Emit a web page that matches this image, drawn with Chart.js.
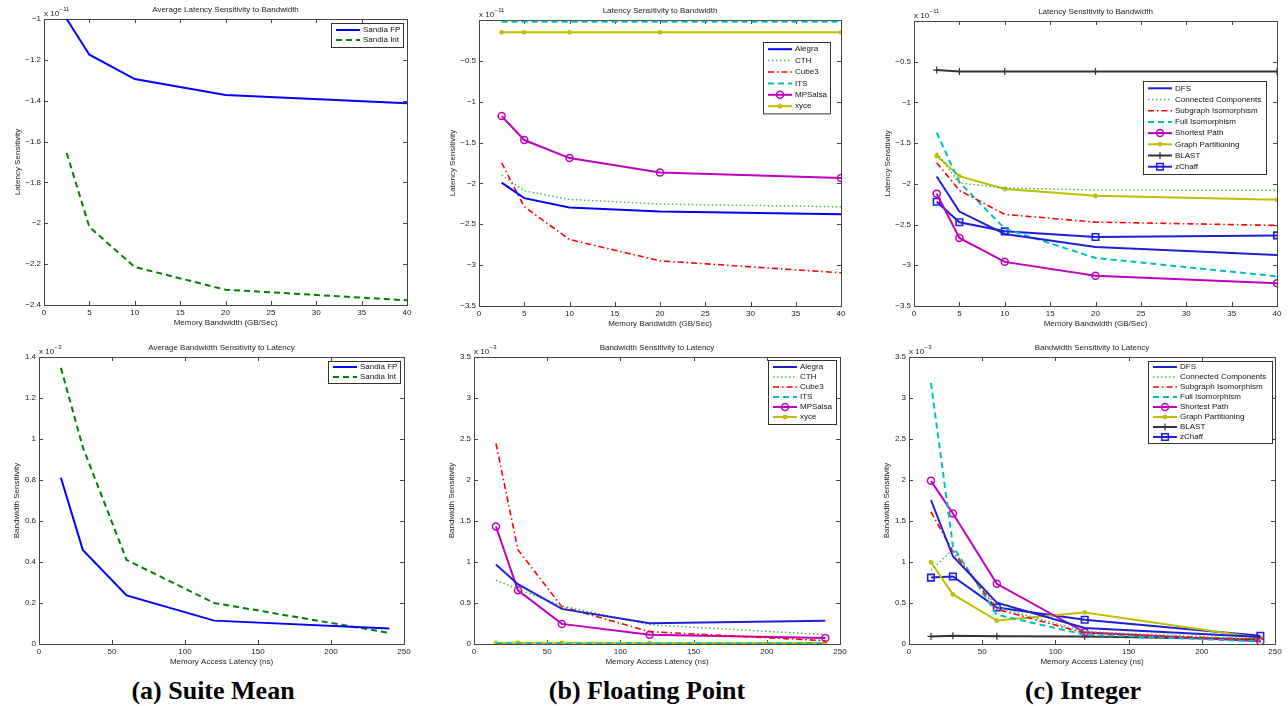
<!DOCTYPE html>
<html><head><meta charset="utf-8">
<script src="https://cdn.jsdelivr.net/npm/chart.js@4.4.0/dist/chart.umd.min.js"></script>
<style>
html,body{margin:0;padding:0;background:#fff;width:1288px;height:706px;overflow:hidden;}
.cell{position:absolute;}
.cell canvas{display:block;}
.cap{position:absolute;top:676px;line-height:26px;font:bold 26px 'Liberation Serif','Times New Roman',serif;color:#000;white-space:nowrap;transform:translateX(-50%);}
</style></head><body>
<div class="cell" style="left:0;top:0;width:430px;height:330px"><canvas id="c1" width="430" height="330"></canvas></div>
<div class="cell" style="left:430px;top:0;width:435px;height:330px"><canvas id="c2" width="435" height="330"></canvas></div>
<div class="cell" style="left:865px;top:0;width:423px;height:330px"><canvas id="c3" width="423" height="330"></canvas></div>
<div class="cell" style="left:0;top:330px;width:430px;height:340px"><canvas id="c4" width="430" height="340"></canvas></div>
<div class="cell" style="left:430px;top:330px;width:435px;height:340px"><canvas id="c5" width="435" height="340"></canvas></div>
<div class="cell" style="left:865px;top:330px;width:423px;height:340px"><canvas id="c6" width="423" height="340"></canvas></div>
<div class="cap" style="left:213px">(a) Suite Mean</div>
<div class="cap" style="left:647px">(b) Floating Point</div>
<div class="cap" style="left:1083px">(c) Integer</div>
<script>
// ---------- DATA ----------
// x values
const bwX  = [2.5, 5, 10, 20, 40];        // Memory Bandwidth (GB/Sec)
const latX = [15, 30, 60, 120, 240];      // Memory Access Latency (ns)
// tick values
const bwTicks  = [0, 5, 10, 15, 20, 25, 30, 35, 40];
const latTicks = [0, 50, 100, 150, 200, 250];
const meanLatTicks = [-2.4, -2.2, -2, -1.8, -1.6, -1.4, -1.2, -1];
const latSensTicks = [-3.5, -3, -2.5, -2, -1.5, -1, -0.5, 0];
const meanBwTicks  = [0, 0.2, 0.4, 0.6, 0.8, 1, 1.2, 1.4];
const bwSensTicks  = [0, 0.5, 1, 1.5, 2, 2.5, 3, 3.5];

// (a) Suite mean: latency sensitivity to bandwidth (x 1e-11)
const meanLatFP  = [-1.0, -1.175, -1.294, -1.372, -1.413];
const meanLatInt = [-1.656, -2.018, -2.214, -2.325, -2.377];
// (a) Suite mean: bandwidth sensitivity to latency (x 1e-3)
const meanBwFP  = [0.811, 0.459, 0.237, 0.114, 0.076];
const meanBwInt = [1.347, 0.96, 0.41, 0.2, 0.054];

// (b) Floating point: latency sensitivity (x 1e-11)
const fpLatAlegra  = [-1.99, -2.18, -2.294, -2.343, -2.376];
const fpLatCTH     = [-1.898, -2.09, -2.196, -2.253, -2.286];
const fpLatCube3   = [-1.747, -2.286, -2.686, -2.947, -3.094];
const fpLatITS     = [-0.02, -0.02, -0.02, -0.02, -0.02];
const fpLatMPSalsa = [-1.176, -1.469, -1.69, -1.865, -1.935];
const fpLatXyce    = [-0.151, -0.151, -0.151, -0.151, -0.151];
// (b) Floating point: bandwidth sensitivity (x 1e-3)
const fpBwAlegra  = [0.97, 0.73, 0.428, 0.253, 0.284];
const fpBwCTH     = [0.778, 0.67, 0.465, 0.235, 0.114];
const fpBwCube3   = [2.445, 1.15, 0.455, 0.15, 0.04];
const fpBwITS     = [0.005, 0.005, 0.005, 0.005, 0.005];
const fpBwMPSalsa = [1.433, 0.655, 0.245, 0.112, 0.073];
const fpBwXyce    = [0.012, 0.015, 0.015, 0.012, 0.012];

// (c) Integer: latency sensitivity (x 1e-11)
const intLatDFS      = [-1.91, -2.34, -2.615, -2.776, -2.874];
const intLatCC       = [-1.62, -1.99, -2.05, -2.075, -2.08];
const intLatSubgraph = [-1.74, -2.08, -2.375, -2.47, -2.51];
const intLatFullIso  = [-1.37, -1.98, -2.55, -2.91, -3.136];
const intLatSP       = [-2.12, -2.665, -2.958, -3.128, -3.222];
const intLatGP       = [-1.655, -1.905, -2.062, -2.146, -2.195];
const intLatBLAST    = [-0.603, -0.62, -0.62, -0.62, -0.62];
const intLatZChaff   = [-2.22, -2.472, -2.583, -2.653, -2.633];
// (c) Integer: bandwidth sensitivity (x 1e-3)
const intBwDFS      = [1.756, 1.07, 0.505, 0.195, 0.085];
const intBwCC       = [0.9, 1.15, 0.45, 0.15, 0.06];
const intBwSubgraph = [1.61, 1.13, 0.425, 0.134, 0.053];
const intBwFullIso  = [3.185, 1.19, 0.357, 0.114, 0.032];
const intBwSP       = [1.99, 1.592, 0.734, 0.142, 0.032];
const intBwGP       = [0.997, 0.605, 0.286, 0.385, 0.073];
const intBwBLAST    = [0.092, 0.1, 0.095, 0.09, 0.058];
const intBwZChaff   = [0.81, 0.823, 0.445, 0.296, 0.101];

// ---------- STYLES ----------
const FONT = "'Liberation Sans', Arial, Helvetica, sans-serif";
const ST = {
  blue:    {color:'#0000ff', width:2},
  blueC:   {color:'#1f1fd8', width:2},
  greenD:  {color:'#008000', width:2, dash:[6,4]},
  dotG:    {color:'#44bb44', width:1.5, dash:[1.5,2.5]},
  redDD:   {color:'#ff0000', width:1.6, dash:[6,3,1.5,3]},
  cyanD:   {color:'#00bfbf', width:2, dash:[6,4]},
  magO:    {color:'#bf00bf', width:2, marker:'circle', size:3.5, mw:1.5},
  oliveS:  {color:'#bfbf00', width:2, marker:'star', size:2.5, mw:1.2},
  blackP:  {color:'#333333', width:2, marker:'cross', size:3.5, mw:1.2},
  blueSq:  {color:'#1f1fd8', width:2, marker:'rect', size:4.6, mw:1.6}
};

// ---------- PLUGINS ----------
function fmt(v){ const r = Math.round(v*100)/100; if (r===0) return '0'; return (r<0?'\u2212':'') + String(Math.abs(r)); }

function drawMarker(ctx, style, r, x, y, color, bw){
  ctx.save(); ctx.setLineDash([]); ctx.lineWidth = bw; ctx.strokeStyle = color;
  ctx.beginPath();
  if (style==='circle') { ctx.arc(x, y, r, 0, 2*Math.PI); }
  else if (style==='rect') { const s = r*Math.SQRT1_2; ctx.rect(x-s, y-s, 2*s, 2*s); }
  else if (style==='cross') { ctx.moveTo(x-r,y); ctx.lineTo(x+r,y); ctx.moveTo(x,y-r); ctx.lineTo(x,y+r); }
  else if (style==='star') { ctx.moveTo(x-r,y); ctx.lineTo(x+r,y); ctx.moveTo(x,y-r); ctx.lineTo(x,y+r);
    const d = r*Math.SQRT1_2; ctx.moveTo(x-d,y-d); ctx.lineTo(x+d,y+d); ctx.moveTo(x-d,y+d); ctx.lineTo(x+d,y-d); }
  ctx.stroke(); ctx.restore();
}

const decorPlugin = {
  id: 'decor',
  beforeDatasetsDraw(chart, args, o) {
    const {ctx, chartArea: ca} = chart; const x = chart.scales.x, y = chart.scales.y;
    ctx.save();
    ctx.strokeStyle = '#444'; ctx.lineWidth = 1; ctx.setLineDash([]);
    ctx.beginPath();
    x.ticks.forEach(t => { const px = Math.round(x.getPixelForValue(t.value)) + 0.5;
      ctx.moveTo(px, ca.bottom); ctx.lineTo(px, ca.bottom - 4); ctx.moveTo(px, ca.top); ctx.lineTo(px, ca.top + 4); });
    y.ticks.forEach(t => { const py = Math.round(y.getPixelForValue(t.value)) + 0.5;
      ctx.moveTo(ca.left, py); ctx.lineTo(ca.left + 4, py); ctx.moveTo(ca.right, py); ctx.lineTo(ca.right - 4, py); });
    ctx.stroke();
    ctx.strokeRect(Math.round(ca.left) + 0.5, Math.round(ca.top) + 0.5, Math.round(ca.right - ca.left), Math.round(ca.bottom - ca.top));
    ctx.fillStyle = '#222'; ctx.font = '8px ' + FONT; ctx.textAlign = 'center'; ctx.textBaseline = 'middle';
    const cx = (ca.left + ca.right) / 2;
    ctx.fillText(o.title, cx, ca.top + o.titleDy);
    ctx.fillText(o.xTitle, cx, ca.bottom + o.xTitleDy);
    ctx.save(); ctx.translate(ca.left + o.yTitleDx, (ca.top + ca.bottom) / 2); ctx.rotate(-Math.PI / 2);
    ctx.fillText(o.yTitle, 0, 0); ctx.restore();
    ctx.textAlign = 'left'; ctx.textBaseline = 'alphabetic';
    ctx.fillText('x 10', ca.left, ca.top - 3);
    const w = ctx.measureText('x 10').width;
    ctx.font = '6px ' + FONT;
    ctx.fillText(o.exp, ca.left + w + 0.5, ca.top - 8.5);
    ctx.restore();
  }
};

const legendPlugin = {
  id: 'mlegend',
  afterDraw(chart, args, o) {
    const {ctx, chartArea: ca} = chart; const ds = chart.data.datasets;
    ctx.save();
    const w = o.width, h = ds.length * o.rowH + 2 * o.padV;
    const bx = Math.round(ca.right - o.inset[0] - w), by = Math.round(ca.top + o.inset[1]);
    ctx.fillStyle = '#fff'; ctx.fillRect(bx, by, w, h);
    ctx.strokeStyle = '#333'; ctx.lineWidth = 1; ctx.setLineDash([]);
    ctx.strokeRect(bx + 0.5, by + 0.5, w, h);
    ctx.font = '8px ' + FONT; ctx.textBaseline = 'middle'; ctx.textAlign = 'left';
    ds.forEach((d, i) => {
      const cy = by + o.padV + o.rowH * (i + 0.5);
      const x0 = bx + 5, x1 = x0 + 24;
      ctx.strokeStyle = d.borderColor; ctx.lineWidth = d.borderWidth; ctx.setLineDash(d.borderDash || []);
      ctx.beginPath(); ctx.moveTo(x0, cy); ctx.lineTo(x1, cy); ctx.stroke();
      ctx.setLineDash([]);
      if (d.pointRadius > 0) drawMarker(ctx, d.pointStyle, d.pointRadius, (x0 + x1) / 2, cy, d.borderColor, d.pointBorderWidth);
      ctx.fillStyle = '#111';
      ctx.fillText(d.label, x1 + 3, cy);
    });
    ctx.restore();
  }
};

// ---------- CHART FACTORY ----------
function makeChart(id, spec) {
  const datasets = spec.series.map(s => ({
    label: s.label,
    data: spec.x.map((xv, i) => ({x: xv, y: s.values[i]})),
    borderColor: s.style.color,
    backgroundColor: 'rgba(0,0,0,0)',
    borderWidth: s.style.width,
    borderDash: s.style.dash || [],
    pointStyle: s.style.marker || 'circle',
    pointRadius: s.style.marker ? s.style.size : 0,
    pointBorderColor: s.style.color,
    pointBackgroundColor: 'rgba(0,0,0,0)',
    pointBorderWidth: s.style.mw || 1,
    tension: 0, fill: false
  }));
  const b = spec.box;
  return new Chart(document.getElementById(id), {
    type: 'line',
    data: {datasets},
    options: {
      responsive: false, animation: false, devicePixelRatio: 1,
      layout: {padding: {left: 0, top: b.top, right: b.right, bottom: 0}},
      plugins: {legend: {display: false}, tooltip: {enabled: false}, decor: spec.decor, mlegend: spec.legend},
      scales: {
        x: {type: 'linear', min: spec.xTicks[0], max: spec.xTicks[spec.xTicks.length - 1],
          afterBuildTicks: s => { s.ticks = spec.xTicks.map(v => ({value: v})); },
          afterFit: s => { s.height = b.xH; },
          grid: {display: false, drawTicks: false}, border: {display: false},
          ticks: {font: {family: FONT, size: 8}, color: '#222', padding: 3, maxRotation: 0, autoSkip: false, callback: v => fmt(v)}},
        y: {type: 'linear', min: spec.yTicks[0], max: spec.yTicks[spec.yTicks.length - 1],
          afterBuildTicks: s => { s.ticks = spec.yTicks.map(v => ({value: v})); },
          afterFit: s => { s.width = b.yW; },
          grid: {display: false, drawTicks: false}, border: {display: false},
          ticks: {font: {family: FONT, size: 8}, color: '#222', padding: 3, autoSkip: false,
            callback: v => (spec.hideZero && Math.abs(v) < 1e-9) ? '' : fmt(v)}}
      }
    },
    plugins: [decorPlugin, legendPlugin]
  });
}

const topDecor = (title) => ({title, xTitle: 'Memory Bandwidth (GB/Sec)', yTitle: 'Latency Sensitivity', exp: '\u221211', titleDy: -9, xTitleDy: 18, yTitleDx: -26});
const botDecor = (title) => ({title, xTitle: 'Memory Access Latency (ns)', yTitle: 'Bandwidth Sensitivity', exp: '\u22123', titleDy: -9.5, xTitleDy: 18, yTitleDx: -22});

makeChart('c1', {
  x: bwX, xTicks: bwTicks, yTicks: meanLatTicks,
  box: {top: 19, right: 23, xH: 25, yW: 44},
  decor: topDecor('Average Latency Sensitivity to Bandwidth'),
  legend: {inset: [4, 4], width: 72, rowH: 10, padV: 2},
  series: [
    {label: 'Sandia FP', values: meanLatFP, style: ST.blue},
    {label: 'Sandia Int', values: meanLatInt, style: ST.greenD}
  ]
});
makeChart('c2', {
  x: bwX, xTicks: bwTicks, yTicks: latSensTicks, hideZero: true,
  box: {top: 20, right: 24, xH: 24, yW: 49},
  decor: topDecor('Latency Sensitivity to Bandwidth'),
  legend: {inset: [11, 22], width: 67, rowH: 11.4, padV: 1.5},
  series: [
    {label: 'Alegra', values: fpLatAlegra, style: ST.blue},
    {label: 'CTH', values: fpLatCTH, style: ST.dotG},
    {label: 'Cube3', values: fpLatCube3, style: ST.redDD},
    {label: 'ITS', values: fpLatITS, style: ST.cyanD},
    {label: 'MPSalsa', values: fpLatMPSalsa, style: ST.magO},
    {label: 'xyce', values: fpLatXyce, style: ST.oliveS}
  ]
});
makeChart('c3', {
  x: bwX, xTicks: bwTicks, yTicks: latSensTicks, hideZero: true,
  box: {top: 21, right: 11, xH: 24, yW: 49},
  decor: topDecor('Latency Sensitivity to Bandwidth'),
  legend: {inset: [11, 60], width: 123, rowH: 11.2, padV: 1.7},
  series: [
    {label: 'DFS', values: intLatDFS, style: ST.blueC},
    {label: 'Connected Components', values: intLatCC, style: ST.dotG},
    {label: 'Subgraph Isomorphism', values: intLatSubgraph, style: ST.redDD},
    {label: 'Full Isomorphism', values: intLatFullIso, style: ST.cyanD},
    {label: 'Shortest Path', values: intLatSP, style: ST.magO},
    {label: 'Graph Partitioning', values: intLatGP, style: ST.oliveS},
    {label: 'BLAST', values: intLatBLAST, style: ST.blackP},
    {label: 'zChaff', values: intLatZChaff, style: ST.blueSq}
  ]
});
makeChart('c4', {
  x: latX, xTicks: latTicks, yTicks: meanBwTicks,
  box: {top: 27, right: 26, xH: 26, yW: 39},
  decor: botDecor('Average Bandwidth Sensitivity to Latency'),
  legend: {inset: [4, 4], width: 72, rowH: 10, padV: 1},
  series: [
    {label: 'Sandia FP', values: meanBwFP, style: ST.blue},
    {label: 'Sandia Int', values: meanBwInt, style: ST.greenD}
  ]
});
makeChart('c5', {
  x: latX, xTicks: latTicks, yTicks: bwSensTicks,
  box: {top: 27, right: 25, xH: 26, yW: 44},
  decor: botDecor('Bandwidth Sensitivity to Latency'),
  legend: {inset: [4, 3], width: 68, rowH: 10, padV: 2},
  series: [
    {label: 'Alegra', values: fpBwAlegra, style: ST.blueC},
    {label: 'CTH', values: fpBwCTH, style: ST.dotG},
    {label: 'Cube3', values: fpBwCube3, style: ST.redDD},
    {label: 'ITS', values: fpBwITS, style: ST.cyanD},
    {label: 'MPSalsa', values: fpBwMPSalsa, style: ST.magO},
    {label: 'xyce', values: fpBwXyce, style: ST.oliveS}
  ]
});
makeChart('c6', {
  x: latX, xTicks: latTicks, yTicks: bwSensTicks,
  box: {top: 27, right: 13, xH: 26, yW: 44},
  decor: botDecor('Bandwidth Sensitivity to Latency'),
  legend: {inset: [3, 4], width: 124, rowH: 10, padV: 1},
  series: [
    {label: 'DFS', values: intBwDFS, style: ST.blueC},
    {label: 'Connected Components', values: intBwCC, style: ST.dotG},
    {label: 'Subgraph Isomorphism', values: intBwSubgraph, style: ST.redDD},
    {label: 'Full Isomorphism', values: intBwFullIso, style: ST.cyanD},
    {label: 'Shortest Path', values: intBwSP, style: ST.magO},
    {label: 'Graph Partitioning', values: intBwGP, style: ST.oliveS},
    {label: 'BLAST', values: intBwBLAST, style: ST.blackP},
    {label: 'zChaff', values: intBwZChaff, style: ST.blueSq}
  ]
});
</script>
</body></html>
